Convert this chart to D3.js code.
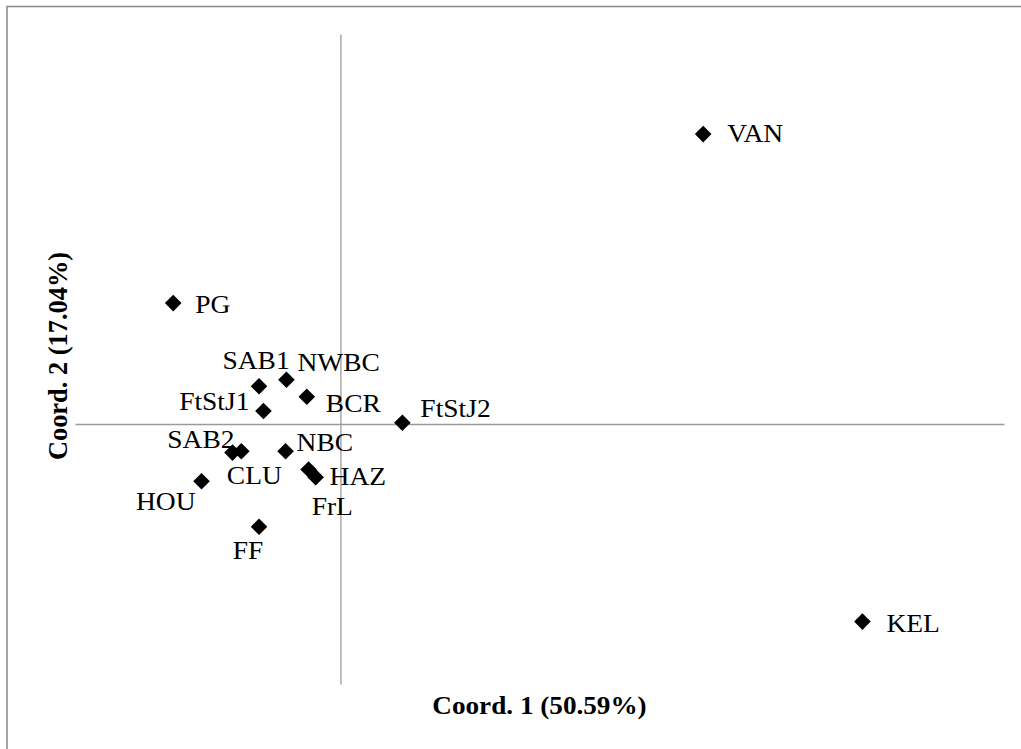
<!DOCTYPE html>
<html>
<head>
<meta charset="utf-8">
<script src="https://cdn.jsdelivr.net/npm/d3@7"></script>
<style>
  html, body { margin: 0; padding: 0; background: #fff; overflow: hidden; }
  svg { display: block; }
  text { font-family: "Liberation Serif", "Times New Roman", serif; fill: #000; }
</style>
</head>
<body>
<svg id="chart" width="1021" height="749"></svg>
<script>
// Principal coordinates of the sampled populations
const sites  = ["VAN", "PG", "SAB1", "NWBC", "BCR", "FtStJ1", "FtStJ2", "SAB2", "CLU", "NBC", "HAZ", "FrL", "HOU", "FF", "KEL"];
const coord1 = [0.410, -0.189, -0.092, -0.061, -0.038, -0.087, 0.070, -0.122, -0.112, -0.062, -0.036, -0.028, -0.157, -0.092, 0.590];
const coord2 = [0.223, 0.093, 0.029, 0.034, 0.021, 0.010, 0.001, -0.022, -0.021, -0.021, -0.035, -0.041, -0.044, -0.079, -0.152];

// Axis ranges and titles
const xDomain = [-0.3, 0.75];
const yDomain = [-0.2, 0.3];
const xTitle = "Coord. 1 (50.59%)";
const yTitle = "Coord. 2 (17.04%)";

// Where each point label sits relative to its marker: [anchor, dx, dy]
const labelOffsets = [
  ["start", 24, 0], ["start", 22, 2], ["middle", -3, -26], ["start", 11, -17],
  ["start", 19, 7], ["end", -14, -9], ["start", 18, -14], ["end", 2, -13],
  ["middle", 13, 24], ["start", 11, -9], ["start", 21, 7], ["start", -4, 29],
  ["end", -6, 21], ["middle", -11, 24], ["start", 24, 2]
];

const svg = d3.select("#chart");
const plot = { left: 75, right: 1004, top: 34, bottom: 684 };
const stretch = 1.1; // text is drawn slightly wide

// Outer chart frame
svg.append("rect")
  .attr("x", 7).attr("y", 6.5)
  .attr("width", 1100).attr("height", 1000)
  .attr("fill", "none")
  .attr("stroke", "#888")
  .attr("stroke-width", 1.5);

const x = d3.scaleLinear().domain(xDomain).range([plot.left, plot.right]);
const y = d3.scaleLinear().domain(yDomain).range([plot.bottom, plot.top]);

// Axes crossing at the origin, no ticks
const xAxis = svg.append("g")
  .attr("transform", `translate(0,${y(0)})`)
  .call(d3.axisBottom(x).tickValues([]).tickSizeOuter(0));
const yAxis = svg.append("g")
  .attr("transform", `translate(${x(0)},0)`)
  .call(d3.axisLeft(y).tickValues([]).tickSizeOuter(0));
[xAxis, yAxis].forEach(g => g.select(".domain").attr("stroke", "#9a9a9a").attr("stroke-width", 1.3));

// Axis titles
svg.append("text")
  .attr("transform", `translate(${(plot.left + plot.right) / 2},714) scale(1.087,1)`)
  .attr("text-anchor", "middle")
  .attr("font-weight", "bold")
  .attr("font-size", 25)
  .text(xTitle);

svg.append("text")
  .attr("transform", `translate(67,${(plot.top + plot.bottom) / 2 - 3}) rotate(-90)`)
  .attr("text-anchor", "middle")
  .attr("font-weight", "bold")
  .attr("font-size", 26.4)
  .text(yTitle);

const points = sites.map((s, i) => ({ name: s, c1: coord1[i], c2: coord2[i], off: labelOffsets[i] }));

// Diamond markers
svg.append("g").selectAll("path")
  .data(points)
  .join("path")
  .attr("d", d3.symbol(d3.symbolSquare, 138))
  .attr("transform", d => `translate(${x(d.c1)},${y(d.c2)}) rotate(45)`)
  .attr("fill", "#000");

// Point labels
const fs = 25;
svg.append("g").selectAll("text")
  .data(points)
  .join("text")
  .attr("font-size", fs)
  .attr("text-anchor", d => d.off[0])
  .attr("transform", d => `translate(${x(d.c1) + d.off[1]},${y(d.c2) + d.off[2] + fs * 0.33}) scale(${stretch},1)`)
  .text(d => d.name);
</script>
</body>
</html>
